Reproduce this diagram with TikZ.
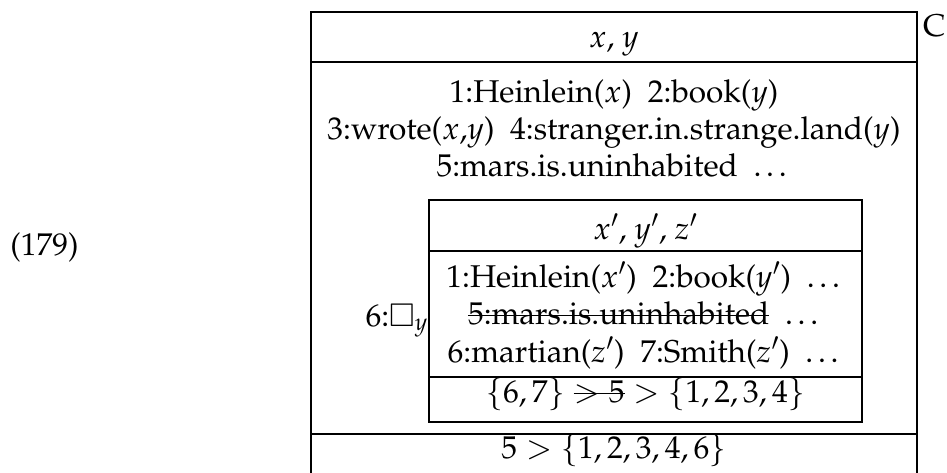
\documentclass[tikz,border=0pt]{standalone}
\usepackage[T1]{fontenc}
\usepackage{mathpazo}
\usepackage{amssymb}
\newcommand{\strk}[1]{\setbox0\hbox{#1}\rlap{\rule[0.24em]{\wd0}{1.1pt}}\box0}
\begin{document}
\begin{tikzpicture}[x=1pt,y=-1pt,
  font=\fontsize{31.5}{37}\selectfont,
  box/.style={line width=1.2pt},
  txt/.style={inner sep=0pt, anchor=base}]
\useasboundingbox (0,0) rectangle (947,473);
% outer box
\draw[box] (311,490) -- (311,12) -- (917,12) -- (917,490);
\draw[box] (311,62) -- (917,62);
\draw[box] (311,434) -- (917,434);
% inner box
\draw[box] (429,200) rectangle (862,422);
\draw[box] (429,251) -- (862,251);
\draw[box] (429,377) -- (862,377);
% labels
\node[txt] (num) at (44.5,255) {(179)};
\node[txt, anchor=base west] (C) at (923,37) {C};
\node[txt] (univ) at (614,48) {$x$, $y$};
\node[txt] (l1) at (614,103) {1:Heinlein($x$)\ \ 2:book($y$)};
\node[txt] (l2) at (614,140) {3:wrote($x$,$y$)\ \ 4:stranger.in.strange.land($y$)};
\node[txt] (l3) at (614,177) {5:mars.is.uninhabited\ \ \dots};
\node[txt, anchor=base east] (modal) at (428,326) {6:$\Box_y$};
\node[txt] (iuniv) at (645.5,239) {$x'$, $y'$, $z'$};
\node[txt] (i1) at (645.5,287) {1:Heinlein($x'$)\ \ 2:book($y'$)\ \ \dots};
\node[txt] (i2) at (645.5,324) {\strk{5:mars.is.uninhabited}\ \ \dots};
\node[txt] (i3) at (645.5,362) {6:martian($z'$)\ \ 7:Smith($z'$)\ \ \dots};
\node[txt] (iord) at (645.5,402) {$\{6,7\}\mathrel{\strk{$>5$}}\mskip\thickmuskip>\{1,2,3,4\}$};
\node[txt] (ord) at (614,458) {$5>\{1,2,3,4,6\}$};
\end{tikzpicture}
\end{document}
